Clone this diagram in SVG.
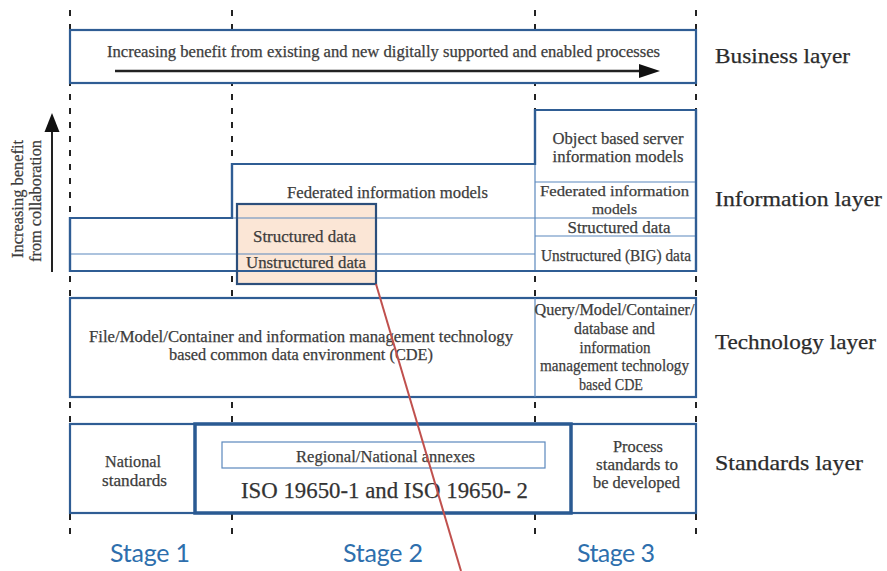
<svg xmlns="http://www.w3.org/2000/svg" width="887" height="571" viewBox="0 0 887 571">
<style>
.dash{stroke:#222;stroke-width:2;stroke-dasharray:6 8;fill:none}
.thick{stroke:#2f5d94;stroke-width:2.2;fill:#fff}
.thin{stroke:#5b88bd;stroke-width:1.2;fill:none}
.t{font-family:"Liberation Serif","Times New Roman",serif;font-size:17px;fill:#3c3c3c;stroke:#3c3c3c;stroke-width:0.25;text-anchor:middle}
.lay{font-family:"Liberation Serif","Times New Roman",serif;font-size:22px;fill:#2b2b2b;stroke:#2b2b2b;stroke-width:0.25}
.stage{font-family:Lato,"Liberation Sans",sans-serif;font-size:25px;fill:#2e6fad;text-anchor:middle}
</style>
<rect width="887" height="571" fill="#fff"/>
<g id="stage-dividers">
<line class="dash" x1="70" y1="10" x2="70" y2="540"/>
<line class="dash" x1="232" y1="10" x2="232" y2="540"/>
<line class="dash" x1="535" y1="10" x2="535" y2="540"/>
<line class="dash" x1="696" y1="10" x2="696" y2="540"/>
</g>
<g id="business">
<rect class="thick" x="70" y="30" width="626" height="53"/>
<text class="t" x="383.5" y="57" style="font-size:16px" textLength="553" lengthAdjust="spacingAndGlyphs">Increasing benefit from existing and new digitally supported and enabled processes</text>
<line x1="115" y1="71" x2="642" y2="71" stroke="#222" stroke-width="2.5"/>
<polygon points="639,64 660,71 639,78" fill="#111"/>
</g>
<g id="information">
<path class="thick" d="M70,218 H232 V164 H535 V110 H696 V271 H70 Z" stroke="none"/>
<rect x="237" y="204" width="139" height="80" fill="#fbe6d6"/>
<line class="thin" x1="232" y1="218" x2="696" y2="218"/>
<line class="thin" x1="70" y1="254" x2="535" y2="254"/>
<line class="thin" x1="535" y1="164" x2="535" y2="271"/>
<line class="thin" x1="535" y1="182" x2="696" y2="182"/>
<line class="thin" x1="535" y1="236" x2="696" y2="236"/>
<path d="M70,218 H232 V164 H535 V110 H696 V271 H70 Z" fill="none" stroke="#2f5d94" stroke-width="2.2"/>
<text class="t" x="387.5" y="198" textLength="201" lengthAdjust="spacingAndGlyphs">Federated information models</text>
<text class="t" x="618" y="144" textLength="131" lengthAdjust="spacingAndGlyphs">Object based server</text>
<text class="t" x="618" y="162" textLength="131" lengthAdjust="spacingAndGlyphs">information models</text>
<text class="t" x="614.5" y="196" style="font-size:15.5px" textLength="149" lengthAdjust="spacingAndGlyphs">Federated information</text>
<text class="t" x="614.5" y="214" style="font-size:15.5px" textLength="45" lengthAdjust="spacingAndGlyphs">models</text>
<text class="t" x="619" y="233" textLength="103" lengthAdjust="spacingAndGlyphs">Structured data</text>
<text class="t" x="616" y="261" textLength="150" lengthAdjust="spacingAndGlyphs">Unstructured (BIG) data</text>
</g>
<g id="highlight">
<rect x="237" y="204" width="139" height="80" fill="none" stroke="#2c4f7c" stroke-width="2.2"/>
<text class="t" x="304.5" y="242" textLength="103" lengthAdjust="spacingAndGlyphs">Structured data</text>
<text class="t" x="306" y="268" textLength="120" lengthAdjust="spacingAndGlyphs">Unstructured data</text>
</g>
<g id="technology">
<rect class="thick" x="70" y="298" width="626" height="99"/>
<line class="thin" x1="535" y1="298" x2="535" y2="397"/>
<text class="t" x="301" y="342" textLength="424" lengthAdjust="spacingAndGlyphs">File/Model/Container and information management technology</text>
<text class="t" x="301" y="360" textLength="264" lengthAdjust="spacingAndGlyphs">based common data environment (CDE)</text>
<text class="t" x="614.5" y="315" textLength="160" lengthAdjust="spacingAndGlyphs">Query/Model/Container/</text>
<text class="t" x="614.5" y="334" textLength="81" lengthAdjust="spacingAndGlyphs">database and</text>
<text class="t" x="615" y="353" textLength="71" lengthAdjust="spacingAndGlyphs">information</text>
<text class="t" x="614.5" y="371" textLength="149" lengthAdjust="spacingAndGlyphs">management technology</text>
<text class="t" x="611" y="390" textLength="64" lengthAdjust="spacingAndGlyphs">based CDE</text>
</g>
<g id="standards">
<rect class="thick" x="70" y="424" width="626" height="89"/>
<rect x="195" y="424" width="376" height="89" fill="#fff" stroke="#2a5a92" stroke-width="3.5"/>
<rect x="222" y="442" width="323" height="26" fill="none" stroke="#5b88bd" stroke-width="1.2"/>
<text class="t" x="385.5" y="462" textLength="179" lengthAdjust="spacingAndGlyphs">Regional/National annexes</text>
<text class="t" x="384.5" y="498" style="font-size:23px;fill:#333;stroke:#333" textLength="287" lengthAdjust="spacingAndGlyphs">ISO 19650-1 and ISO 19650- 2</text>
<text class="t" x="133" y="467" textLength="56" lengthAdjust="spacingAndGlyphs">National</text>
<text class="t" x="134.5" y="486" textLength="65" lengthAdjust="spacingAndGlyphs">standards</text>
<text class="t" x="638" y="452" textLength="50" lengthAdjust="spacingAndGlyphs">Process</text>
<text class="t" x="637" y="470" textLength="82" lengthAdjust="spacingAndGlyphs">standards to</text>
<text class="t" x="636.5" y="488" textLength="87" lengthAdjust="spacingAndGlyphs">be developed</text>
</g>
<g id="collaboration-axis">
<line x1="52" y1="272" x2="52" y2="130" stroke="#222" stroke-width="2"/>
<polygon points="44.5,132 52,113 59.5,132" fill="#111"/>
<text class="t" transform="translate(23,199) rotate(-90)" textLength="118" lengthAdjust="spacingAndGlyphs">Increasing benefit</text>
<text class="t" transform="translate(41,201) rotate(-90)" textLength="122" lengthAdjust="spacingAndGlyphs">from collaboration</text>
</g>
<g id="layer-labels">
<text class="lay" x="715" y="63" textLength="135" lengthAdjust="spacingAndGlyphs">Business layer</text>
<text class="lay" x="715" y="206" textLength="167" lengthAdjust="spacingAndGlyphs">Information layer</text>
<text class="lay" x="715" y="349" textLength="161" lengthAdjust="spacingAndGlyphs">Technology layer</text>
<text class="lay" x="715" y="470" textLength="148" lengthAdjust="spacingAndGlyphs">Standards layer</text>
</g>
<g id="stage-labels">
<text class="stage" x="150" y="562" textLength="80">Stage 1</text>
<text class="stage" x="383" y="562" textLength="80">Stage 2</text>
<text class="stage" x="616" y="562" textLength="78">Stage 3</text>
</g>
<g id="connectors">
<line x1="376" y1="284" x2="461" y2="571" stroke="#c0504d" stroke-width="2"/>
</g>
</svg>
